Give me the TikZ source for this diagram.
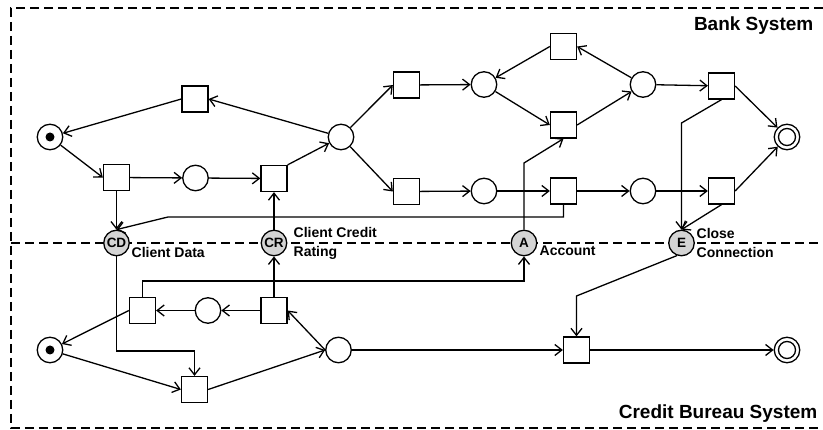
\documentclass[tikz,border=0pt]{standalone}
\usepackage{fontspec}
\setmainfont{Liberation Sans}
\usetikzlibrary{arrows.meta}
\begin{document}
\begin{tikzpicture}[x=1pt,y=-1pt,line width=1.3pt,
place/.style ={circle, draw, minimum size=25.5pt, inner sep=0pt},
trans/.style ={rectangle, draw, minimum size=26pt, inner sep=0pt},
marked/.style ={place, path picture={\fill (path picture bounding box.center) circle (4.5pt);}},
final/.style ={place, path picture={\draw (path picture bounding box.center) circle (8.5pt);}},
iface/.style ={circle, draw, fill=black!17, minimum size=25.5pt, inner sep=0pt,
  font=\bfseries\fontsize{13.5}{13.5}\selectfont},
lbl/.style ={anchor=west, align=left, inner sep=0pt,
  font=\bfseries\fontsize{14}{19}\selectfont},
title/.style ={anchor=base east, inner sep=0pt,
  font=\bfseries\fontsize{19}{19}\selectfont},
lane/.style ={dash pattern=on 9pt off 5pt},
arc/.style ={-{Straight Barb[length=7pt,width=11pt]}}
]
\useasboundingbox (0,0) rectangle (823,430);
\draw[lane] (823,8) -- (11,8) -- (11,428) -- (823,428);
\draw[lane] (11,243) -- (823,243);
\node (bank) at (814,31) [title] {Bank System};
\node (bureau) at (818,419) [title] {Credit Bureau System};

\node (p0) at (50,137) [marked] {};
\node (ttop) at (195,99) [trans] {};
\node (t1) at (116.5,177.5) [trans] {};
\node (p1) at (195.5,178) [place] {};
\node (t2) at (274,178.5) [trans] {};
\node (p2) at (341,137) [place] {};
\node (t3) at (406.5,85) [trans] {};
\node (t4) at (406.5,191.5) [trans] {};
\node (p3) at (484,84.5) [place] {};
\node (p4) at (484,191) [place] {};
\node (t5) at (563.5,46.5) [trans] {};
\node (t6) at (563.5,125) [trans] {};
\node (t7) at (563.5,191) [trans] {};
\node (p5) at (643,84.5) [place] {};
\node (p6) at (643,191) [place] {};
\node (t8) at (721.5,86) [trans] {};
\node (t9) at (721.5,191) [trans] {};
\node (pend) at (787,137) [final] {};

\node (cd) at (116.5,243) [iface] {CD};
\node (cr) at (274,243) [iface] {CR};
\node (acc) at (524,243) [iface] {A};
\node (ecl) at (681.5,243) [iface] {E};
\node (cdl) at (131,252) [lbl] {Client Data};
\node (crl) at (293,243) [lbl] {Client Credit\\Rating};
\node (accl) at (539,251) [lbl] {Account};
\node (ecll) at (696,243) [lbl] {Close\\Connection};

\node (q0) at (50,350) [marked] {};
\node (ta) at (142.5,310.5) [trans] {};
\node (qa) at (208,310.5) [place] {};
\node (tb) at (274,310.5) [trans] {};
\node (tc) at (194.5,389.5) [trans] {};
\node (qb) at (338.5,350) [place] {};
\node (td) at (576.5,350) [trans] {};
\node (qend) at (787,350) [final] {};

\coordinate (c1) at (168,217);
\coordinate (c2) at (524,163);
\coordinate (c3) at (524,281);
\coordinate (c4) at (194.5,351);
\coordinate (c5) at (576.5,296);
\coordinate (c6) at (681.5,123);

\draw[arc] (ttop.west) -- (p0);
\draw[arc] (p0) -- (t1.west);
\draw[arc] (t1) -- (p1);
\draw[arc] (p1) -- (t2);
\draw[arc] (t2.north east) -- (p2);
\draw[arc] (p2) -- (ttop.east);
\draw[arc] (p2) -- (t3.west);
\draw[arc] (p2) -- (t4.west);
\draw[arc] (t3) -- (p3);
\draw[arc] (t5.west) -- (p3);
\draw[arc] (p3) -- (t6.west);
\draw[arc] (t6.east) -- (p5);
\draw[arc] (p5) -- (t5.east);
\draw[arc] (p5) -- (t8);
\draw[arc] (t4) -- (p4);
\draw[arc] (p4) -- (t7);
\draw[arc] (t7) -- (p6);
\draw[arc] (p6) -- (t9);
\draw[arc] (t8.east) -- (pend);
\draw[arc] (t9.east) -- (pend);

\draw[arc] (t1) -- (cd);
\draw[arc] (t7.south) |- (c1) -- (cd.north);
\draw[arc] (cr) -- (t2);
\draw[arc] (acc) -- (c2) -- (t6.south);
\draw[arc] (t8.south) -- (c6) -- (ecl);
\draw[arc] (t9.south) -- (ecl.north);

\draw[arc] (ta.west) -- (q0);
\draw[arc] (q0) -- (tc.west);
\draw[arc] (tc.east) -- (qb.west);
\draw[arc] (qb.west) -- (tb.east);
\draw[arc] (tb) -- (qa);
\draw[arc] (qa) -- (ta);
\draw[arc] (ta) |- (c3) -- (acc);
\draw[arc] (tb) -- (cr);
\draw[arc] (cd) |- (c4) -- (tc);
\draw[arc] (qb) -- (td);
\draw[arc] (td) -- (qend);
\draw[arc] (ecl.250) -- (c5) -- (td);
\end{tikzpicture}
\end{document}
